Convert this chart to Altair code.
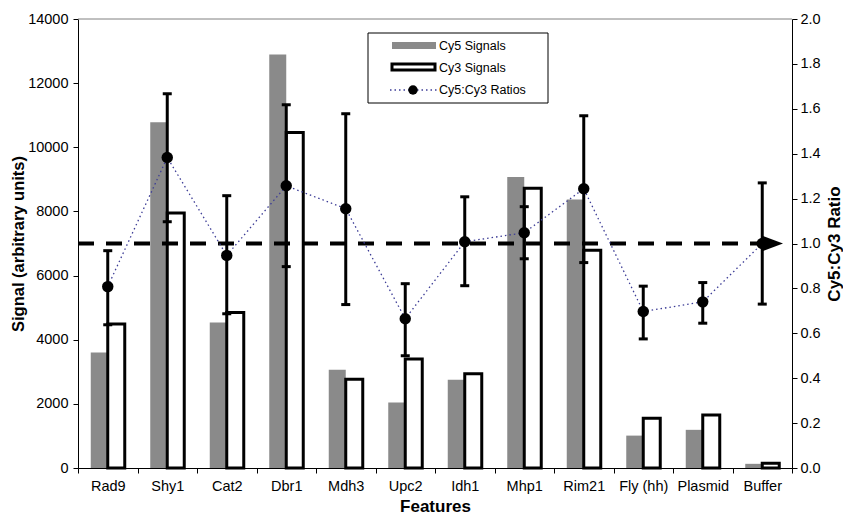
import altair as alt
import pandas as pd

# ---- data ----
features = ["Rad9", "Shy1", "Cat2", "Dbr1", "Mdh3", "Upc2", "Idh1", "Mhp1",
            "Rim21", "Fly (hh)", "Plasmid", "Buffer"]
cy5_signal = [3600, 10780, 4540, 12890, 3060, 2040, 2750, 9070, 8370, 1010, 1190, 130]
cy3_signal = [4490, 7950, 4850, 10460, 2770, 3400, 2940, 8720, 6790, 1550, 1650, 150]
ratio = [0.808, 1.383, 0.947, 1.257, 1.155, 0.665, 1.008, 1.048, 1.244, 0.697, 0.740, 1.000]
ratio_hi = [0.968, 1.667, 1.213, 1.618, 1.578, 0.821, 1.208, 1.164, 1.569, 0.810, 0.826, 1.270]
ratio_lo = [0.638, 1.097, 0.687, 0.897, 0.728, 0.500, 0.812, 0.932, 0.915, 0.575, 0.645, 0.730]
reference_ratio = [1.0]
legend_labels = ["Cy5 Signals", "Cy3 Signals", "Cy5:Cy3 Ratios"]
left_ticks = [0, 2000, 4000, 6000, 8000, 10000, 12000, 14000]
right_ticks = [0.0, 0.2, 0.4, 0.6, 0.8, 1.0, 1.2, 1.4, 1.6, 1.8, 2.0]

FONT = "Liberation Sans"
W, H = 714, 449
GRAY = "#8a8a8a"
DOT = "#3c3c96"

df = pd.DataFrame({"feature": features, "cy5": cy5_signal, "cy3": cy3_signal,
                   "ratio": ratio, "lo": ratio_lo, "hi": ratio_hi})
bars = df.melt(id_vars="feature", value_vars=["cy5", "cy3"],
               var_name="series", value_name="signal")
one = pd.DataFrame({"k": [0]})

x_enc = alt.X("feature:N", sort=features,
              scale=alt.Scale(type="band", paddingInner=0, paddingOuter=0),
              axis=alt.Axis(title="Features", labelAngle=0, tickBand="extent",
                            labelPadding=6, titlePadding=6, tickSize=5))
xoff = alt.XOffset("series:N", sort=["cy5", "cy3"],
                   scale=alt.Scale(domain=["cy5", "cy3"], paddingInner=0, paddingOuter=0.75))

left_axis = alt.Axis(title="Signal (arbitrary units)", values=left_ticks, format="d",
                     titlePadding=1, labelPadding=5, tickSize=5, titleFontSize=16.5)
left_scale = alt.Scale(domain=[0, 14000], nice=False, zero=True)

right_axis = alt.Axis(orient="right", title="Cy5:Cy3 Ratio", values=right_ticks, format=".1f",
                      titleAngle=270, titleBaseline="top", titlePadding=6,
                      labelPadding=3, tickSize=5)
right_scale = alt.Scale(domain=[0, 2], nice=False, zero=True)

def yr(field):
    return alt.Y(field, type="quantitative", scale=right_scale, axis=right_axis)

cy5_bars = alt.Chart(bars).transform_filter(alt.datum.series == "cy5").mark_bar(
    color=GRAY).encode(x=x_enc, xOffset=xoff,
                       y=alt.Y("signal:Q", scale=left_scale, axis=left_axis))
cy3_bars = alt.Chart(bars).transform_filter(alt.datum.series == "cy3").mark_bar(
    fill="white", stroke="black", strokeWidth=3).encode(
    x=x_enc, xOffset=xoff, y=alt.Y("signal:Q", scale=left_scale, axis=left_axis))
left = alt.layer(cy5_bars, cy3_bars)

ref_line = alt.Chart(pd.DataFrame({"ratio": reference_ratio})).mark_rule(
    color="black", strokeWidth=4, strokeDash=[16, 12]).encode(
    y=yr("ratio"), x=alt.value(0), x2=alt.value(687))
arrow = alt.Chart(pd.DataFrame({"ratio": reference_ratio})).mark_point(
    shape="M-1,-0.75L1,0L-1,0.75Z", filled=True, size=400, color="black", opacity=1).encode(
    y=yr("ratio"), x=alt.value(695))

base = alt.Chart(df)
ratio_line = base.mark_line(color=DOT, strokeWidth=1.3, strokeDash=[1.5, 3]).encode(
    x=x_enc, y=yr("ratio"))
err = base.mark_rule(color="black", strokeWidth=3).encode(
    x=x_enc, y=yr("lo"), y2="hi")
cap_hi = base.mark_tick(color="black", size=9, thickness=3, opacity=1).encode(
    x=x_enc, y=yr("hi"))
cap_lo = base.mark_tick(color="black", size=9, thickness=3, opacity=1).encode(
    x=x_enc, y=yr("lo"))
pts = base.mark_point(filled=True, size=130, color="black", opacity=1).encode(
    x=x_enc, y=yr("ratio"))
right = alt.layer(ref_line, ratio_line, err, cap_hi, cap_lo, pts, arrow)

top_rule = alt.Chart(one).mark_rule(color="#808080", strokeWidth=1).encode(
    x=alt.value(0), x2=alt.value(W), y=alt.value(0))

# ---- legend box ----
leg_box = alt.Chart(one).mark_rect(fill="white", stroke="black", strokeWidth=1).encode(
    x=alt.value(290), x2=alt.value(470), y=alt.value(14), y2=alt.value(84))
leg_cy5 = alt.Chart(one).mark_rect(fill=GRAY).encode(
    x=alt.value(314), x2=alt.value(358), y=alt.value(23), y2=alt.value(30))
leg_cy3 = alt.Chart(one).mark_rect(fill="white", stroke="black", strokeWidth=3).encode(
    x=alt.value(314), x2=alt.value(357), y=alt.value(45), y2=alt.value(51))
leg_line = alt.Chart(one).mark_rule(color=DOT, strokeWidth=1.3, strokeDash=[1.5, 3]).encode(
    x=alt.value(312), x2=alt.value(359), y=alt.value(71))
leg_pt = alt.Chart(one).mark_point(filled=True, size=90, color="black", opacity=1).encode(
    x=alt.value(335), y=alt.value(71))
leg_texts = [
    alt.Chart(one).mark_text(align="left", baseline="middle", font=FONT, fontSize=12.5,
                             color="black").encode(
        x=alt.value(361), y=alt.value(yy), text=alt.value(lbl))
    for lbl, yy in zip(legend_labels, [27, 49, 71])
]

chart = alt.layer(top_rule, left, right, leg_box, leg_cy5, leg_cy3, leg_line, leg_pt,
                  *leg_texts).resolve_scale(y="independent").properties(
    width=W, height=H,
    autosize=alt.AutoSizeParams(type="none"),
    padding={"left": 70, "top": 11, "right": 51, "bottom": 49},
).configure_axis(
    labelFont=FONT, titleFont=FONT, labelFontSize=14.5, titleFontSize=17,
    titleFontWeight="bold", labelColor="black", titleColor="black",
    domainColor="black", tickColor="black", grid=False, domainWidth=1, tickWidth=1,
).configure_view(stroke=None)

chart.save("out.html", embed_options={"renderer": "svg", "actions": False})
